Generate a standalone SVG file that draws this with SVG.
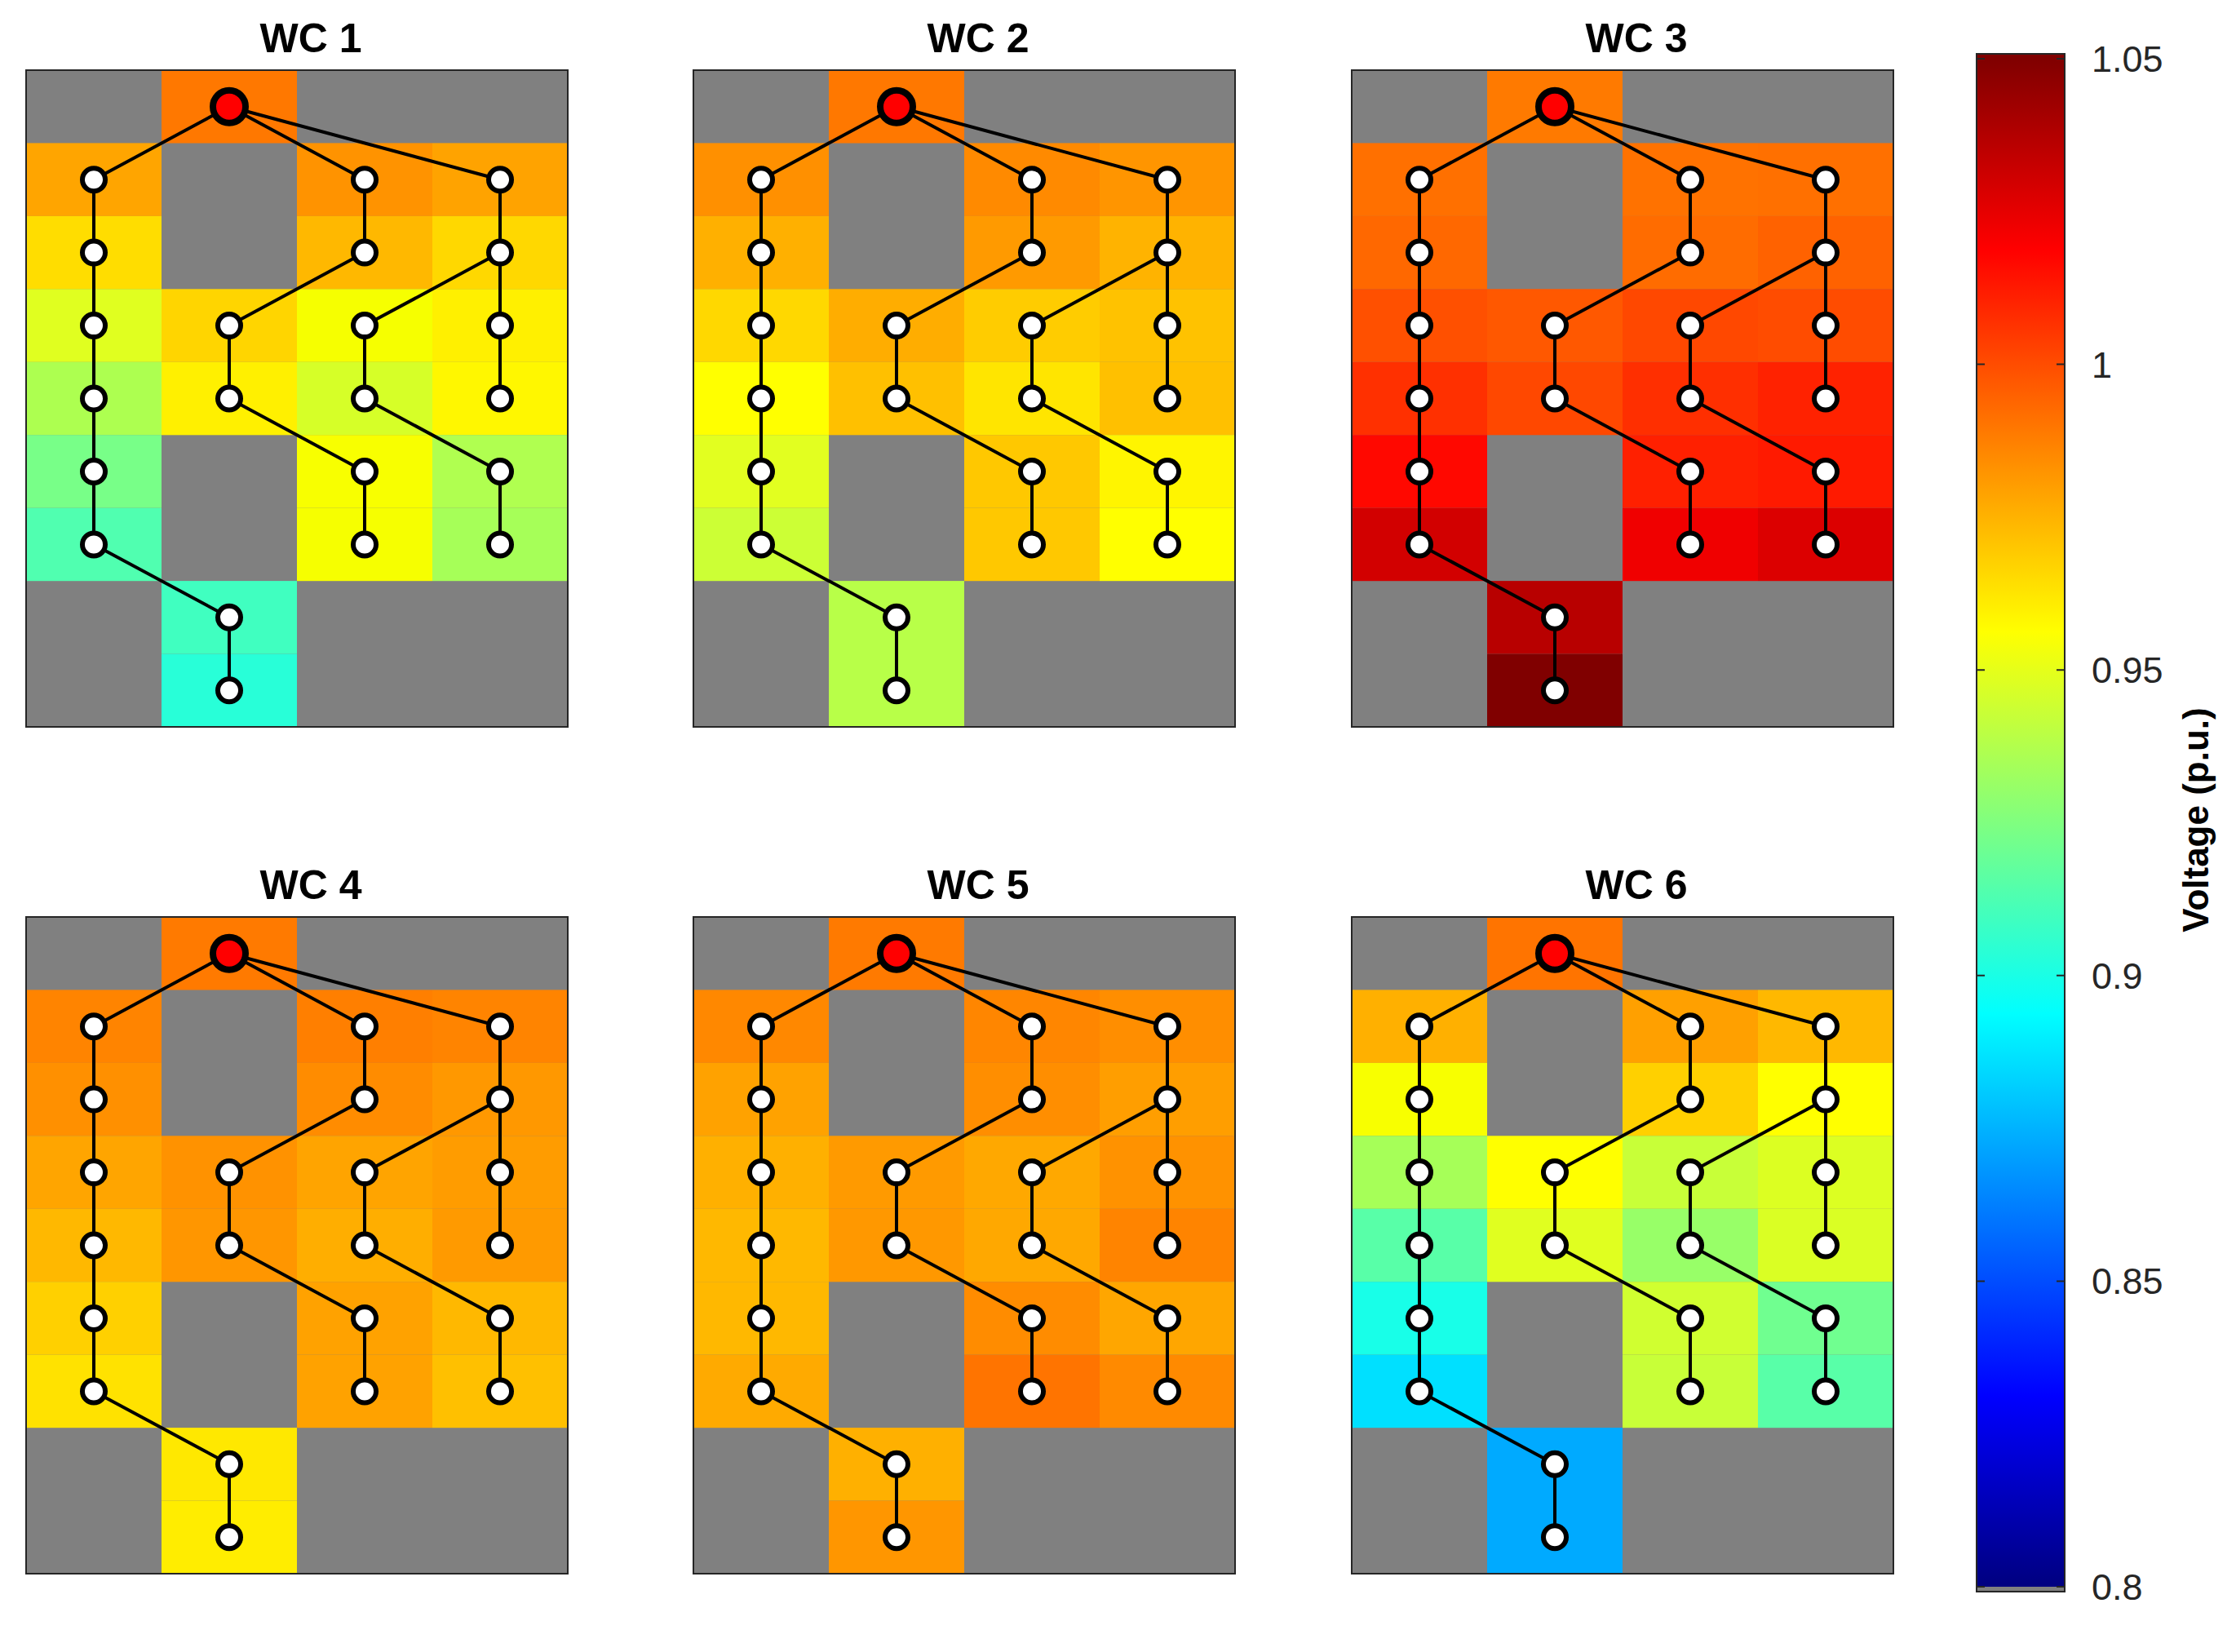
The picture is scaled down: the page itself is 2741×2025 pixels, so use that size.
<svg xmlns="http://www.w3.org/2000/svg" xmlns:xlink="http://www.w3.org/1999/xlink" width="2741" height="2025" viewBox="0 0 2741 2025">
<style>
.t{font-family:"Liberation Sans",Arial,sans-serif;font-weight:bold;font-size:50px;text-anchor:middle;fill:#000}
.tk{font-family:"Liberation Sans",Arial,sans-serif;font-size:45px;fill:#262626}
.fr{fill:none;stroke:#262626;stroke-width:2}
.e{fill:none;stroke:#000;stroke-width:4;stroke-linejoin:round}
.n{fill:#fff;stroke:#000;stroke-width:6}
.r{fill:#ff0000;stroke:#000;stroke-width:8}
</style>
<defs>
<linearGradient id="jet" gradientUnits="userSpaceOnUse" x1="0" y1="72" x2="0" y2="1945">
<stop offset="0" stop-color="#800000"/><stop offset="0.125" stop-color="#ff0000"/><stop offset="0.375" stop-color="#ffff00"/><stop offset="0.625" stop-color="#00ffff"/><stop offset="0.875" stop-color="#0000ff"/><stop offset="1" stop-color="#000080"/>
</linearGradient>
<path id="edges" class="e" d="M249 44.7L83 134.2M249 44.7L415 134.2M249 44.7L581 134.2M83 134.2V581.4L249 670.8V760.3M415 134.2V223.6L249 313.1V402.5L415 492V581.4M581 134.2V402.5M581 223.6L415 313.1V402.5L581 492V581.4"/>
<g id="nodes">
<circle class="n" cx="83" cy="134.2" r="14"/><circle class="n" cx="83" cy="223.6" r="14"/><circle class="n" cx="83" cy="313.1" r="14"/><circle class="n" cx="83" cy="402.5" r="14"/><circle class="n" cx="83" cy="492" r="14"/><circle class="n" cx="83" cy="581.4" r="14"/>
<circle class="n" cx="249" cy="313.1" r="14"/><circle class="n" cx="249" cy="402.5" r="14"/><circle class="n" cx="249" cy="670.8" r="14"/><circle class="n" cx="249" cy="760.3" r="14"/>
<circle class="n" cx="415" cy="134.2" r="14"/><circle class="n" cx="415" cy="223.6" r="14"/><circle class="n" cx="415" cy="313.1" r="14"/><circle class="n" cx="415" cy="402.5" r="14"/><circle class="n" cx="415" cy="492" r="14"/><circle class="n" cx="415" cy="581.4" r="14"/>
<circle class="n" cx="581" cy="134.2" r="14"/><circle class="n" cx="581" cy="223.6" r="14"/><circle class="n" cx="581" cy="313.1" r="14"/><circle class="n" cx="581" cy="402.5" r="14"/><circle class="n" cx="581" cy="492" r="14"/><circle class="n" cx="581" cy="581.4" r="14"/>
<circle class="r" cx="249" cy="44.7" r="20"/>
</g>
</defs>

<g id="wc1" transform="translate(32,86)">
<text class="t" x="349" y="-22">WC 1</text>
<rect width="664" height="805" fill="#808080"/>
<rect x="166" y="0" width="166" height="89.5" fill="#FF7800"/>
<rect x="0" y="89.4" width="166" height="89.5" fill="#FFA500"/><rect x="332" y="89.4" width="166" height="89.5" fill="#FF9300"/><rect x="498" y="89.4" width="166" height="89.5" fill="#FFA300"/>
<rect x="0" y="178.9" width="166" height="89.5" fill="#FFDD00"/><rect x="332" y="178.9" width="166" height="89.5" fill="#FFB800"/><rect x="498" y="178.9" width="166" height="89.5" fill="#FFD800"/>
<rect x="0" y="268.3" width="166" height="89.5" fill="#E0FF20"/><rect x="166" y="268.3" width="166" height="89.5" fill="#FFD500"/><rect x="332" y="268.3" width="166" height="89.5" fill="#F6FF00"/><rect x="498" y="268.3" width="166" height="89.5" fill="#FFF000"/>
<rect x="0" y="357.8" width="166" height="89.5" fill="#ADFF50"/><rect x="166" y="357.8" width="166" height="89.5" fill="#FFF000"/><rect x="332" y="357.8" width="166" height="89.5" fill="#D6FF28"/><rect x="498" y="357.8" width="166" height="89.5" fill="#FFF700"/>
<rect x="0" y="447.2" width="166" height="89.5" fill="#78FF88"/><rect x="332" y="447.2" width="166" height="89.5" fill="#F8FF00"/><rect x="498" y="447.2" width="166" height="89.5" fill="#B0FF50"/>
<rect x="0" y="536.7" width="166" height="89.5" fill="#50FFB0"/><rect x="332" y="536.7" width="166" height="89.5" fill="#F6FF00"/><rect x="498" y="536.7" width="166" height="89.5" fill="#A6FF58"/>
<rect x="166" y="626.1" width="166" height="89.5" fill="#40FFC0"/><rect x="166" y="715.6" width="166" height="89.4" fill="#28FFD8"/>
<rect class="fr" width="664" height="805"/>
</g>

<g id="wc2" transform="translate(850,86)">
<text class="t" x="349" y="-22">WC 2</text>
<rect width="664" height="805" fill="#808080"/>
<rect x="166" y="0" width="166" height="89.5" fill="#FF7800"/>
<rect x="0" y="89.4" width="166" height="89.5" fill="#FF9000"/><rect x="332" y="89.4" width="166" height="89.5" fill="#FF8A00"/><rect x="498" y="89.4" width="166" height="89.5" fill="#FF9500"/>
<rect x="0" y="178.9" width="166" height="89.5" fill="#FFB000"/><rect x="332" y="178.9" width="166" height="89.5" fill="#FF9A00"/><rect x="498" y="178.9" width="166" height="89.5" fill="#FFB300"/>
<rect x="0" y="268.3" width="166" height="89.5" fill="#FFD800"/><rect x="166" y="268.3" width="166" height="89.5" fill="#FFAD00"/><rect x="332" y="268.3" width="166" height="89.5" fill="#FFCC00"/><rect x="498" y="268.3" width="166" height="89.5" fill="#FFC200"/>
<rect x="0" y="357.8" width="166" height="89.5" fill="#FFFF00"/><rect x="166" y="357.8" width="166" height="89.5" fill="#FFC000"/><rect x="332" y="357.8" width="166" height="89.5" fill="#FFE500"/><rect x="498" y="357.8" width="166" height="89.5" fill="#FFC000"/>
<rect x="0" y="447.2" width="166" height="89.5" fill="#E2FF20"/><rect x="332" y="447.2" width="166" height="89.5" fill="#FFC800"/><rect x="498" y="447.2" width="166" height="89.5" fill="#FFF500"/>
<rect x="0" y="536.7" width="166" height="89.5" fill="#CCFF35"/><rect x="332" y="536.7" width="166" height="89.5" fill="#FFC800"/><rect x="498" y="536.7" width="166" height="89.5" fill="#FFFF00"/>
<rect x="166" y="626.1" width="166" height="178.9" fill="#B8FF48"/>
<rect class="fr" width="664" height="805"/>
</g>

<g id="wc3" transform="translate(1657,86)">
<text class="t" x="349" y="-22">WC 3</text>
<rect width="664" height="805" fill="#808080"/>
<rect x="166" y="0" width="166" height="89.5" fill="#FF7A00"/>
<rect x="0" y="89.4" width="166" height="89.5" fill="#FF7000"/><rect x="332" y="89.4" width="166" height="89.5" fill="#FF7200"/><rect x="498" y="89.4" width="166" height="89.5" fill="#FF7000"/>
<rect x="0" y="178.9" width="166" height="89.5" fill="#FF6800"/><rect x="332" y="178.9" width="166" height="89.5" fill="#FF6C00"/><rect x="498" y="178.9" width="166" height="89.5" fill="#FF6200"/>
<rect x="0" y="268.3" width="166" height="89.5" fill="#FF5000"/><rect x="166" y="268.3" width="166" height="89.5" fill="#FF5800"/><rect x="332" y="268.3" width="166" height="89.5" fill="#FF4800"/><rect x="498" y="268.3" width="166" height="89.5" fill="#FF4C00"/>
<rect x="0" y="357.8" width="166" height="89.5" fill="#FF3000"/><rect x="166" y="357.8" width="166" height="89.5" fill="#FF4800"/><rect x="332" y="357.8" width="166" height="89.5" fill="#FF2F00"/><rect x="498" y="357.8" width="166" height="89.5" fill="#FF2200"/>
<rect x="0" y="447.2" width="166" height="89.5" fill="#FF0800"/><rect x="332" y="447.2" width="166" height="89.5" fill="#FF2000"/><rect x="498" y="447.2" width="166" height="89.5" fill="#FF1A00"/>
<rect x="0" y="536.7" width="166" height="89.5" fill="#D20000"/><rect x="332" y="536.7" width="166" height="89.5" fill="#F00000"/><rect x="498" y="536.7" width="166" height="89.5" fill="#DC0000"/>
<rect x="166" y="626.1" width="166" height="89.5" fill="#B80000"/><rect x="166" y="715.6" width="166" height="89.4" fill="#800000"/>
<rect class="fr" width="664" height="805"/>
</g>

<g id="wc4" transform="translate(32,1124)">
<text class="t" x="349" y="-22">WC 4</text>
<rect width="664" height="805" fill="#808080"/>
<rect x="166" y="0" width="166" height="89.5" fill="#FF7A00"/>
<rect x="0" y="89.4" width="166" height="89.5" fill="#FF8400"/><rect x="332" y="89.4" width="166" height="89.5" fill="#FF7F00"/><rect x="498" y="89.4" width="166" height="89.5" fill="#FF8400"/>
<rect x="0" y="178.9" width="166" height="89.5" fill="#FF9000"/><rect x="332" y="178.9" width="166" height="89.5" fill="#FF8C00"/><rect x="498" y="178.9" width="166" height="89.5" fill="#FF9800"/>
<rect x="0" y="268.3" width="166" height="89.5" fill="#FFA500"/><rect x="166" y="268.3" width="166" height="89.5" fill="#FF9200"/><rect x="332" y="268.3" width="166" height="89.5" fill="#FFA400"/><rect x="498" y="268.3" width="166" height="89.5" fill="#FF9C00"/>
<rect x="0" y="357.8" width="166" height="89.5" fill="#FFB800"/><rect x="166" y="357.8" width="166" height="89.5" fill="#FF9600"/><rect x="332" y="357.8" width="166" height="89.5" fill="#FFAE00"/><rect x="498" y="357.8" width="166" height="89.5" fill="#FF9A00"/>
<rect x="0" y="447.2" width="166" height="89.5" fill="#FFD000"/><rect x="332" y="447.2" width="166" height="89.5" fill="#FFA200"/><rect x="498" y="447.2" width="166" height="89.5" fill="#FFB800"/>
<rect x="0" y="536.7" width="166" height="89.5" fill="#FFE200"/><rect x="332" y="536.7" width="166" height="89.5" fill="#FFA200"/><rect x="498" y="536.7" width="166" height="89.5" fill="#FFC000"/>
<rect x="166" y="626.1" width="166" height="89.5" fill="#FFE800"/><rect x="166" y="715.6" width="166" height="89.4" fill="#FFED00"/>
<rect class="fr" width="664" height="805"/>
</g>

<g id="wc5" transform="translate(850,1124)">
<text class="t" x="349" y="-22">WC 5</text>
<rect width="664" height="805" fill="#808080"/>
<rect x="166" y="0" width="166" height="89.5" fill="#FF7A00"/>
<rect x="0" y="89.4" width="166" height="89.5" fill="#FF8800"/><rect x="332" y="89.4" width="166" height="89.5" fill="#FF8600"/><rect x="498" y="89.4" width="166" height="89.5" fill="#FF8E00"/>
<rect x="0" y="178.9" width="166" height="89.5" fill="#FFA200"/><rect x="332" y="178.9" width="166" height="89.5" fill="#FF8E00"/><rect x="498" y="178.9" width="166" height="89.5" fill="#FF9E00"/>
<rect x="0" y="268.3" width="166" height="89.5" fill="#FFB000"/><rect x="166" y="268.3" width="166" height="89.5" fill="#FF9A00"/><rect x="332" y="268.3" width="166" height="89.5" fill="#FFA800"/><rect x="498" y="268.3" width="166" height="89.5" fill="#FF9200"/>
<rect x="0" y="357.8" width="166" height="89.5" fill="#FFB800"/><rect x="166" y="357.8" width="166" height="89.5" fill="#FF9800"/><rect x="332" y="357.8" width="166" height="89.5" fill="#FFA800"/><rect x="498" y="357.8" width="166" height="89.5" fill="#FF8400"/>
<rect x="0" y="447.2" width="166" height="89.5" fill="#FFB800"/><rect x="332" y="447.2" width="166" height="89.5" fill="#FF8C00"/><rect x="498" y="447.2" width="166" height="89.5" fill="#FFA600"/>
<rect x="0" y="536.7" width="166" height="89.5" fill="#FFAA00"/><rect x="332" y="536.7" width="166" height="89.5" fill="#FF7400"/><rect x="498" y="536.7" width="166" height="89.5" fill="#FF8A00"/>
<rect x="166" y="626.1" width="166" height="89.5" fill="#FFB000"/><rect x="166" y="715.6" width="166" height="89.4" fill="#FF9600"/>
<rect class="fr" width="664" height="805"/>
</g>

<g id="wc6" transform="translate(1657,1124)">
<text class="t" x="349" y="-22">WC 6</text>
<rect width="664" height="805" fill="#808080"/>
<rect x="166" y="0" width="166" height="89.5" fill="#FF7400"/>
<rect x="0" y="89.4" width="166" height="89.5" fill="#FFB000"/><rect x="332" y="89.4" width="166" height="89.5" fill="#FFA000"/><rect x="498" y="89.4" width="166" height="89.5" fill="#FFB800"/>
<rect x="0" y="178.9" width="166" height="89.5" fill="#F8FF00"/><rect x="332" y="178.9" width="166" height="89.5" fill="#FFD000"/><rect x="498" y="178.9" width="166" height="89.5" fill="#FFFF00"/>
<rect x="0" y="268.3" width="166" height="89.5" fill="#A6FF58"/><rect x="166" y="268.3" width="166" height="89.5" fill="#FFFF00"/><rect x="332" y="268.3" width="166" height="89.5" fill="#C8FF38"/><rect x="498" y="268.3" width="166" height="89.5" fill="#DCFF22"/>
<rect x="0" y="357.8" width="166" height="89.5" fill="#58FFA8"/><rect x="166" y="357.8" width="166" height="89.5" fill="#E0FF20"/><rect x="332" y="357.8" width="166" height="89.5" fill="#98FF68"/><rect x="498" y="357.8" width="166" height="89.5" fill="#DAFF24"/>
<rect x="0" y="447.2" width="166" height="89.5" fill="#18FFE8"/><rect x="332" y="447.2" width="166" height="89.5" fill="#D0FF30"/><rect x="498" y="447.2" width="166" height="89.5" fill="#70FF90"/>
<rect x="0" y="536.7" width="166" height="89.5" fill="#00E0FF"/><rect x="332" y="536.7" width="166" height="89.5" fill="#C8FF38"/><rect x="498" y="536.7" width="166" height="89.5" fill="#58FFA8"/>
<rect x="166" y="626.1" width="166" height="178.9" fill="#00AAFF"/>
<rect class="fr" width="664" height="805"/>
</g>

<g id="connectors">
<use xlink:href="#edges" transform="translate(32,86)"/>
<use xlink:href="#edges" transform="translate(850,86)"/>
<use xlink:href="#edges" transform="translate(1657,86)"/>
<use xlink:href="#edges" transform="translate(32,1124)"/>
<use xlink:href="#edges" transform="translate(850,1124)"/>
<use xlink:href="#edges" transform="translate(1657,1124)"/>
</g>

<g id="nodes-wc1"><use xlink:href="#nodes" transform="translate(32,86)"/></g>
<g id="nodes-wc2"><use xlink:href="#nodes" transform="translate(850,86)"/></g>
<g id="nodes-wc3"><use xlink:href="#nodes" transform="translate(1657,86)"/></g>
<g id="nodes-wc4"><use xlink:href="#nodes" transform="translate(32,1124)"/></g>
<g id="nodes-wc5"><use xlink:href="#nodes" transform="translate(850,1124)"/></g>
<g id="nodes-wc6"><use xlink:href="#nodes" transform="translate(1657,1124)"/></g>

<g id="colorbar">
<rect x="2423" y="66" width="108" height="1885" fill="url(#jet)"/>
<rect x="2423" y="1945" width="108" height="6" fill="#808080"/>
<rect class="fr" x="2423" y="66" width="108" height="1885"/>
<path d="M2423 72h10M2521 72h10M2423 446.6h10M2521 446.6h10M2423 821.2h10M2521 821.2h10M2423 1195.8h10M2521 1195.8h10M2423 1570.4h10M2521 1570.4h10M2423 1945h10M2521 1945h10" stroke="#262626" stroke-width="2"/>
<text class="tk" x="2564" y="88">1.05</text>
<text class="tk" x="2564" y="463">1</text>
<text class="tk" x="2564" y="837">0.95</text>
<text class="tk" x="2564" y="1212">0.9</text>
<text class="tk" x="2564" y="1586">0.85</text>
<text class="tk" x="2564" y="1961">0.8</text>
<text class="t" style="font-size:44px" transform="translate(2707,1005) rotate(-90)">Voltage (p.u.)</text>
</g>
</svg>
